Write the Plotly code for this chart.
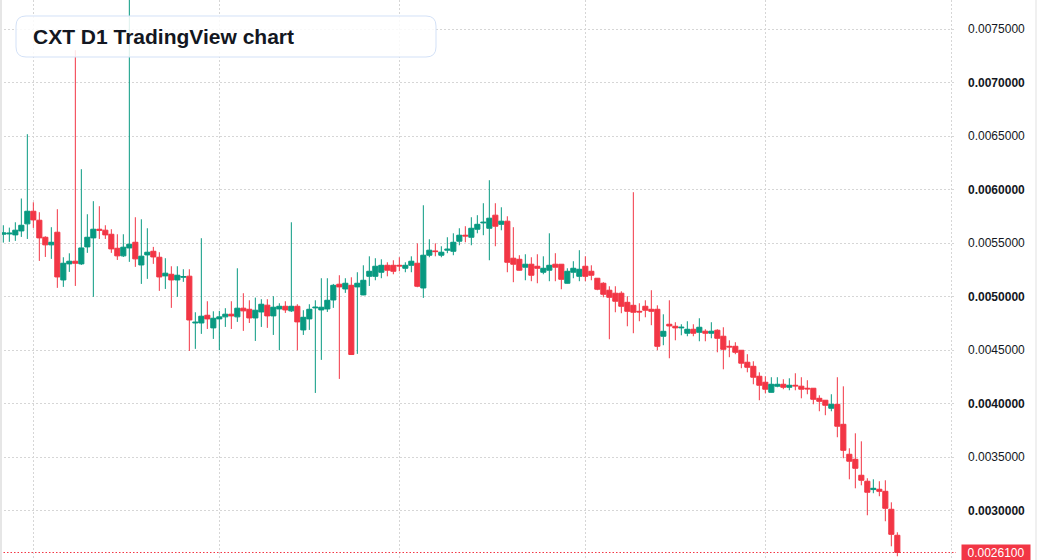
import pandas as pd
import plotly.graph_objects as go

# Prices are in units of 1e-4 (e.g. 55.84 -> 0.005584)
UNIT = 1e-4
start_date = "2025-07-27"

opens = [55.84, 55.87, 55.78, 56.15, 56.81, 57.99, 57.15, 55.56, 54.85, 56.03,
         51.57, 53.07, 53.32, 53.07, 54.66, 55.50, 56.31, 56.22, 55.84, 54.53,
         53.82, 54.56, 55.09, 52.97, 53.91, 54.25, 53.69, 51.95, 52.10, 51.57,
         51.82, 51.92, 47.55, 47.55, 48.27, 47.09, 47.93, 48.12, 48.37, 48.12,
         48.93, 48.83, 48.02, 48.58, 49.21, 48.21, 48.86, 49.11, 48.68, 49.11,
         46.90, 47.93, 48.96, 48.77, 48.86, 49.70, 51.17, 50.73, 51.07, 50.92,
         50.17, 51.91, 51.91, 52.29, 52.94, 52.94, 52.94, 52.66, 52.94, 53.13,
         50.82, 53.88, 54.28, 53.88, 54.35, 54.25, 55.19, 55.75, 55.56, 56.31,
         56.90, 56.40, 57.62, 56.77, 57.06, 53.60, 53.50, 52.76, 53.04, 52.85,
         52.29, 52.48, 53.04, 53.04, 51.26, 52.29, 51.91, 52.85, 52.38, 51.73,
         51.26, 50.61, 50.33, 50.33, 49.48, 49.20, 48.64, 49.11, 48.83, 48.83,
         46.31, 47.43, 47.24, 47.09, 46.59, 46.96, 46.68, 46.78, 46.59, 46.87,
         46.31, 45.37, 45.37, 45.00, 43.88, 43.50, 42.57, 42.01, 41.07, 41.64,
         41.82, 41.54, 41.73, 41.64, 41.45, 41.45, 40.51, 40.33, 39.58, 39.95,
         38.08, 35.28, 34.81, 33.32, 32.76, 31.98, 32.01, 31.82, 30.14, 27.71]

highs = [56.68, 56.46, 56.96, 59.18, 65.19, 58.83, 57.90, 55.65, 56.50, 58.18,
         53.69, 54.06, 73.04, 61.92, 57.71, 58.93, 58.46, 56.68, 56.31, 55.84,
         55.84, 78.50, 57.43, 57.24, 56.40, 54.66, 54.16, 53.60, 52.85, 52.85,
         52.57, 52.57, 48.55, 55.47, 49.58, 48.64, 48.68, 48.93, 49.58, 52.66,
         50.33, 49.67, 49.92, 49.77, 49.77, 50.05, 49.39, 49.58, 56.96, 49.30,
         48.74, 49.30, 49.67, 51.73, 51.73, 51.20, 52.01, 51.73, 51.82, 52.29,
         52.94, 53.78, 53.60, 53.50, 53.22, 53.41, 53.69, 53.22, 53.78, 54.99,
         58.55, 55.37, 54.99, 54.72, 55.56, 55.93, 56.40, 56.59, 57.43, 57.62,
         58.74, 60.89, 58.74, 58.36, 57.52, 56.50, 53.88, 53.97, 53.69, 53.97,
         53.78, 55.93, 54.07, 53.06, 52.66, 53.32, 54.35, 53.78, 52.94, 51.75,
         51.36, 50.98, 50.98, 50.51, 50.05, 59.77, 49.39, 49.67, 50.61, 49.20,
         48.36, 49.67, 47.62, 47.43, 47.71, 47.43, 47.99, 46.96, 47.62, 46.96,
         47.15, 45.93, 45.75, 45.02, 44.63, 43.97, 42.94, 42.57, 42.48, 42.48,
         42.29, 42.38, 42.85, 42.48, 42.20, 41.47, 40.79, 40.35, 40.89, 42.48,
         41.63, 35.84, 37.24, 36.49, 33.04, 32.94, 32.76, 32.85, 30.79, 27.99]

lows = [55.06, 55.13, 55.22, 55.59, 55.40, 56.43, 53.35, 53.72, 53.54, 50.83,
        50.92, 52.32, 51.01, 52.97, 54.10, 49.99, 55.40, 55.40, 54.10, 53.44,
        53.72, 53.26, 52.79, 51.20, 51.67, 53.07, 50.55, 50.73, 48.96, 49.99,
        51.39, 44.94, 45.13, 46.53, 46.99, 46.06, 45.00, 47.18, 46.99, 47.65,
        46.81, 47.55, 45.87, 47.18, 47.09, 46.43, 45.00, 48.49, 48.58, 45.00,
        46.43, 46.90, 41.01, 44.10, 48.58, 48.96, 42.32, 50.36, 44.56, 44.66,
        50.15, 51.01, 51.54, 51.73, 51.91, 52.10, 52.38, 52.29, 52.29, 50.89,
        49.89, 53.69, 53.78, 53.69, 54.07, 53.88, 54.81, 55.09, 54.81, 55.93,
        55.75, 53.41, 54.72, 56.21, 52.29, 51.36, 52.45, 51.54, 51.45, 51.26,
        52.10, 51.45, 51.45, 50.70, 51.24, 51.73, 51.45, 51.45, 51.54, 50.61,
        49.95, 46.03, 48.55, 48.46, 47.24, 46.59, 47.71, 48.08, 47.34, 45.00,
        45.47, 44.25, 45.93, 46.40, 46.31, 46.31, 45.84, 45.84, 46.12, 44.81,
        43.22, 44.35, 44.63, 43.32, 42.94, 41.82, 40.33, 40.98, 41.05, 41.54,
        41.36, 41.26, 41.26, 40.51, 40.89, 39.95, 39.30, 38.93, 39.30, 36.87,
        34.91, 32.94, 32.10, 32.38, 29.58, 31.64, 31.36, 29.02, 26.68, 25.75]

closes = [55.97, 55.94, 56.22, 56.68, 57.99, 57.18, 55.50, 54.85, 55.09, 51.85,
          53.13, 53.32, 53.13, 54.56, 55.56, 56.31, 56.22, 55.78, 54.47, 53.82,
          54.63, 54.91, 53.54, 53.79, 54.16, 53.72, 51.85, 52.20, 51.57, 52.01,
          51.89, 47.83, 47.62, 48.18, 47.93, 47.99, 48.12, 48.37, 48.21, 48.93,
          48.68, 48.02, 48.74, 49.30, 48.21, 49.02, 49.11, 48.77, 49.11, 47.65,
          48.08, 48.83, 49.02, 49.02, 49.67, 51.07, 50.92, 51.26, 44.60, 51.26,
          51.54, 52.38, 52.85, 52.94, 52.48, 52.38, 52.88, 52.94, 53.32, 50.98,
          53.88, 54.35, 54.22, 54.16, 54.44, 55.09, 55.75, 55.68, 56.40, 56.77,
          56.96, 57.34, 56.59, 57.06, 53.22, 53.04, 52.48, 53.04, 52.01, 52.66,
          52.66, 52.94, 52.76, 51.63, 52.38, 52.66, 52.57, 51.91, 52.01, 50.70,
          50.23, 49.95, 49.58, 49.11, 48.64, 48.55, 48.58, 48.74, 48.64, 45.37,
          46.77, 47.27, 47.09, 47.15, 46.96, 46.59, 47.15, 46.59, 46.78, 46.12,
          45.09, 45.31, 44.81, 43.79, 43.41, 42.48, 41.73, 41.36, 41.82, 41.82,
          41.54, 41.73, 41.67, 41.36, 41.39, 40.42, 40.23, 39.86, 39.95, 37.90,
          35.65, 34.63, 33.97, 32.85, 31.73, 32.10, 31.82, 30.23, 27.80, 26.10]

tick_values = [0.0030, 0.0035, 0.0040, 0.0045, 0.0050, 0.0055, 0.0060, 0.0065, 0.0070, 0.0075]

title_text = "CXT D1 TradingView chart"

GREEN = "#089981"
RED = "#f23645"
GRID = "#d6d6d6"
GRID_DASH = "1.5px,2.5px"

W, H = 1037, 560
ML, MR, MT, MB = 0, 81, 0, 0
PW, PH = W - ML - MR, H - MT - MB

dates = pd.date_range(start_date, periods=len(opens), freq="D")
o = [v * UNIT for v in opens]
h = [v * UNIT for v in highs]
l = [v * UNIT for v in lows]
c = [v * UNIT for v in closes]

fig = go.Figure(go.Candlestick(
    x=dates, open=o, high=h, low=l, close=c,
    increasing=dict(line=dict(color=GREEN, width=1), fillcolor=GREEN),
    decreasing=dict(line=dict(color=RED, width=1), fillcolor=RED),
    whiskerwidth=0, hoverinfo="skip",
))

day_px = 6.0
x0 = dates[0] - pd.Timedelta(days=3.33 / day_px)
x1 = x0 + pd.Timedelta(days=PW / day_px)
month_ticks = pd.date_range(dates[0], x1, freq="MS")

tick_text = []
for v in tick_values:
    s = f"{v:.7f}"
    if round(v * 10000) % 10 == 0:
        s = f"<b>{s}</b>"
    tick_text.append(s)


def px_to_paper(px, py):
    return (px - ML) / PW, 1 - (py - MT) / PH


def rounded_rect(xa, ya, xb, yb, r):
    def P(px, py):
        X, Y = px_to_paper(px, py)
        return f"{X:.5f},{Y:.5f}"
    return (f"M {P(xa + r, ya)} L {P(xb - r, ya)} Q {P(xb, ya)} {P(xb, ya + r)} "
            f"L {P(xb, yb - r)} Q {P(xb, yb)} {P(xb - r, yb)} "
            f"L {P(xa + r, yb)} Q {P(xa, yb)} {P(xa, yb - r)} "
            f"L {P(xa, ya + r)} Q {P(xa, ya)} {P(xa + r, ya)} Z")


last_close = c[-1]

shapes = [
    dict(type="line", xref="paper", yref="y", x0=0, x1=1, y0=last_close, y1=last_close,
         line=dict(color=RED, width=1, dash="1.5px,2px"), layer="above"),
    dict(type="path", xref="paper", yref="paper", path=rounded_rect(16, 16, 436, 57, 10),
         fillcolor="rgba(255,255,255,0.86)", line=dict(color="#d3e1f7", width=1), layer="above"),
    dict(type="rect", xref="paper", yref="paper",
         x0=px_to_paper(0, 0)[0], x1=px_to_paper(2, 0)[0], y0=0, y1=1,
         fillcolor="#e6e6e6", line=dict(width=0), layer="above"),
    dict(type="rect", xref="paper", yref="paper",
         x0=px_to_paper(1035, 0)[0], x1=px_to_paper(1037, 0)[0], y0=0, y1=1,
         fillcolor="#f0f0f0", line=dict(width=0), layer="above"),
]

tx, ty = px_to_paper(31, 37)
annotations = [
    dict(text=f"<b>{title_text}</b>", xref="paper", yref="paper", x=tx, y=ty,
         xanchor="left", yanchor="middle", showarrow=False,
         font=dict(family="Liberation Sans, Arial, sans-serif", size=21, color="#131722")),
    dict(text=f"{last_close:.7f}", xref="paper", yref="y", x=1, y=last_close,
         xanchor="left", yanchor="middle", xshift=5, showarrow=False,
         bgcolor=RED, width=68, height=15, borderpad=0,
         font=dict(family="Liberation Sans, Arial, sans-serif", size=12, color="white")),
]

fig.update_layout(
    width=W, height=H,
    margin=dict(l=ML, r=MR, t=MT, b=MB),
    paper_bgcolor="white", plot_bgcolor="white",
    showlegend=False,
    boxgap=0.15, boxgroupgap=0,
    shapes=shapes, annotations=annotations,
    font=dict(family="Liberation Sans, Arial, sans-serif", size=12, color="#131722"),
    xaxis=dict(
        type="date", range=[x0, x1], rangeslider=dict(visible=False),
        tickmode="array", tickvals=list(month_ticks), showticklabels=False,
        showgrid=True, gridcolor=GRID, griddash=GRID_DASH, gridwidth=1,
        zeroline=False, showline=False, ticks="",
    ),
    yaxis=dict(
        side="right", range=[25.40 * UNIT, 77.73 * UNIT],
        tickmode="array", tickvals=tick_values, ticktext=tick_text,
        showgrid=True, gridcolor=GRID, griddash=GRID_DASH, gridwidth=1,
        zeroline=False, showline=False, ticks="", ticklabelstandoff=11,
        tickfont=dict(family="Liberation Sans, Arial, sans-serif", size=12, color="#131722"),
    ),
)

fig.write_html("out.html")
